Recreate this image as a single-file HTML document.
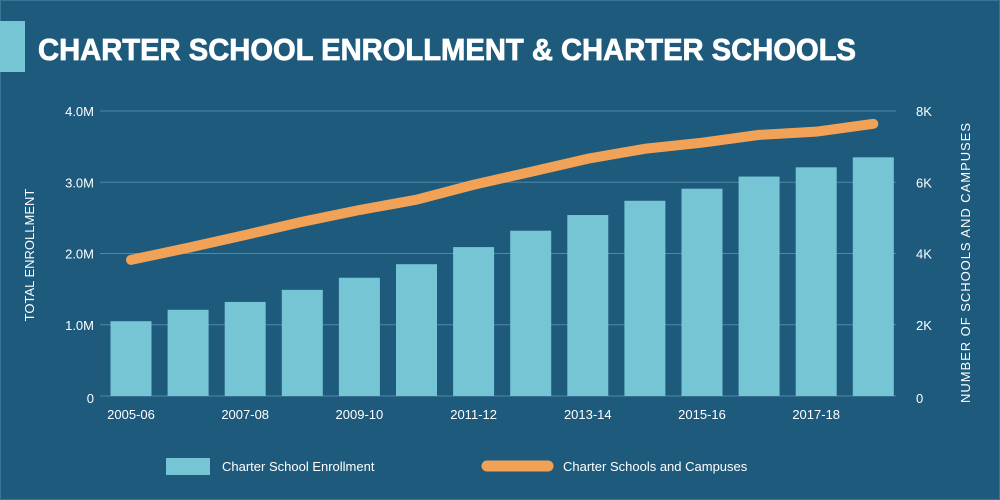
<!DOCTYPE html>
<html><head><meta charset="utf-8"><style>
html,body{margin:0;padding:0;background:#1d5a7c;}
svg{display:block;font-family:"Liberation Sans",sans-serif;}
</style></head><body>
<svg id="chart" width="1000" height="500" viewBox="0 0 1000 500">
<rect x="0" y="0" width="1000" height="500" fill="#1d5a7c" stroke="#3a7595" stroke-width="2"/>
<rect x="0" y="21" width="25" height="51" fill="#76c5d4"/>
<text x="38" y="60" fill="#ffffff" font-size="31" font-weight="bold" stroke="#ffffff" stroke-width="0.8" textLength="818" lengthAdjust="spacingAndGlyphs">CHARTER SCHOOL ENROLLMENT &amp; CHARTER SCHOOLS</text>
<g id="grid"></g><g id="bars"></g><g id="line"></g><g id="axes"></g>
<text transform="translate(34,255) rotate(-90)" text-anchor="middle" fill="#fff" font-size="13">TOTAL ENROLLMENT</text>
<text transform="translate(970,263) rotate(-90)" text-anchor="middle" fill="#fff" font-size="13" textLength="280">NUMBER OF SCHOOLS AND CAMPUSES</text>
<g>
<rect x="166" y="458" width="44" height="17" fill="#76c5d4"/>
<text x="222" y="471" fill="#fff" font-size="13">Charter School Enrollment</text>
<line x1="487" y1="466" x2="548" y2="466" stroke="#f2a256" stroke-width="11" stroke-linecap="round"/>
<text x="563" y="471" fill="#fff" font-size="13">Charter Schools and Campuses</text>
</g>
</svg>
<script>
const categories=["2005-06","2006-07","2007-08","2008-09","2009-10","2010-11","2011-12","2012-13","2013-14","2014-15","2015-16","2016-17","2017-18","2018-19"];
const enrollment=[1.05,1.21,1.32,1.49,1.66,1.85,2.09,2.32,2.54,2.74,2.91,3.08,3.21,3.35];
const schools=[3.82,4.16,4.52,4.89,5.22,5.51,5.93,6.29,6.66,6.94,7.11,7.33,7.42,7.64];
const leftTicks=[0,1,2,3,4];
const leftLabels=["0","1.0M","2.0M","3.0M","4.0M"];
const rightTicks=[0,2,4,6,8];
const rightLabels=["0","2K","4K","6K","8K"];
const NS="http://www.w3.org/2000/svg";
const y0=396,yTop=111,plotL=100,plotR=896;
const yL=v=>y0-(y0-yTop)*v/4;
const yR=v=>y0-(y0-yTop)*v/8;
const xC=i=>131+i*57.1;
function mk(tag,attrs,parent){const e=document.createElementNS(NS,tag);for(const k in attrs)e.setAttribute(k,attrs[k]);document.getElementById(parent).appendChild(e);return e;}
leftTicks.forEach((t,i)=>{
 const g=mk('line',{x1:plotL,x2:plotR,y1:yL(t),y2:yL(t),stroke:'#4f88a8','stroke-width':1},'grid');
 
 
 const l=mk('text',{x:94,y:yL(t)+5+(t===0?2:0),'text-anchor':'end',fill:'#fff','font-size':13},'axes');l.textContent=leftLabels[i];
 
 
});
rightTicks.forEach((t,i)=>{
 const l=mk('text',{x:916,y:yR(t)+5+(t===0?2:0),fill:'#fff','font-size':13},'axes');l.textContent=rightLabels[i];
 
 
});
categories.forEach((c,i)=>{
 const b=mk('rect',{x:xC(i)-20.5,y:yL(enrollment[i]),width:41,height:y0-yL(enrollment[i]),fill:'#76c5d4'},'bars');
 
 
 if(i%2===0){const t=mk('text',{x:xC(i),y:419,'text-anchor':'middle',fill:'#fff','font-size':13},'axes');t.textContent=c;
 
 }
});
const p=mk('polyline',{points:schools.map((v,i)=>xC(i)+','+yR(v)).join(' '),fill:'none',stroke:'#f2a256','stroke-width':10,'stroke-linecap':'round','stroke-linejoin':'round'},'line');


</script>
</body></html>
